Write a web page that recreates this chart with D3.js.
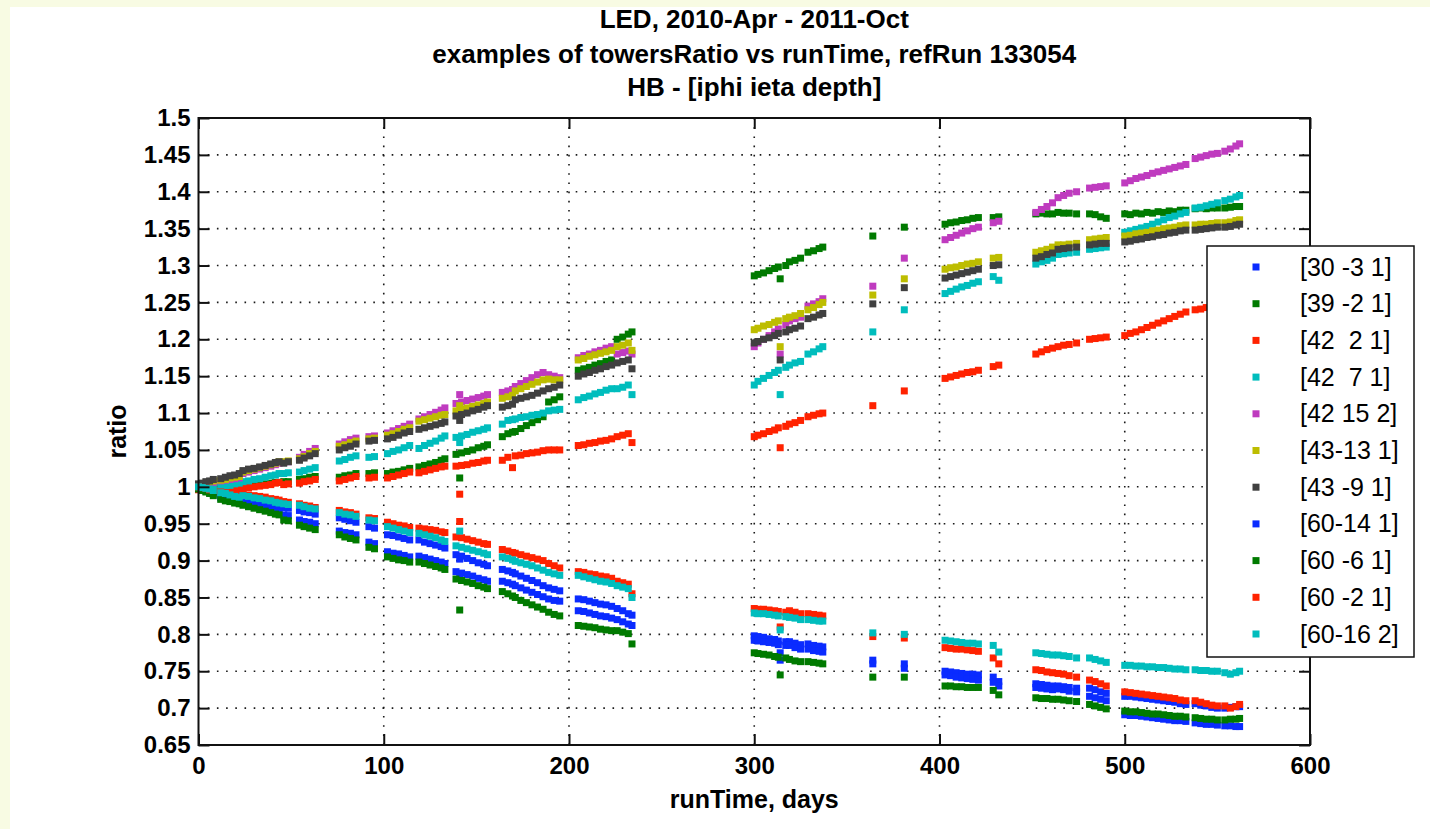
<!DOCTYPE html>
<html>
<head>
<meta charset="utf-8">
<script src="https://cdn.jsdelivr.net/npm/d3@7"></script>
<style>
  html, body { margin: 0; padding: 0; background: #f8fbe3; }
  svg { display: block; }
  text { font-family: "Liberation Sans", Arial, Helvetica, sans-serif; fill: #000; }
</style>
</head>
<body>
<svg id="chart" width="1430" height="829"></svg>
<script>
// ---- data: run time (days) and tower ratios vs the reference run ----
const runDays = [
  0, 2, 4, 6, 8,
  12, 14.5, 17, 19.5, 22,
  24, 27, 30, 33, 36, 39, 41.5, 43.5,
  46, 48.5,
  54.5, 57, 60, 63,
  76, 79, 82, 85,
  92, 95,
  102, 105, 108, 111, 114,
  119, 122, 125, 128, 131, 133,
  139, 141, 142, 145, 148, 151, 154, 156,
  164, 167, 169.5, 171, 174, 177, 180, 183, 186, 189, 192, 195,
  205, 208, 211, 214, 217, 220, 223,
  226, 229, 232, 234,
  300, 302, 305, 308, 311, 313, 314, 317,
  319, 322, 325,
  329, 332, 335, 337,
  364,
  381,
  403, 406, 409, 412, 415, 418, 421,
  429, 432,
  452, 455, 458, 461,
  464, 467, 470, 474,
  481, 484, 487, 490,
  500, 503, 506, 509, 512, 515, 518, 521, 524, 527, 530, 533,
  538, 541, 544, 547, 550,
  554, 557, 560, 562
];

const towerLabels = ["[30 -3 1]", "[39 -2 1]", "[42  2 1]", "[42  7 1]", "[42 15 2]",
  "[43-13 1]", "[43 -9 1]", "[60-14 1]", "[60 -6 1]", "[60 -2 1]", "[60-16 2]"];

const ratio_30_m3_1 = [
  1.000, 0.998, 0.997, 0.995, 0.993,
  0.988, 0.987, 0.985, 0.984, 0.983,
  0.984, 0.982, 0.981, 0.979, 0.978, 0.977, 0.975, 0.975,
  0.972, 0.971,
  0.968, 0.966, 0.965, 0.963,
  0.958, 0.956, 0.954, 0.952,
  0.946, 0.944,
  0.935, 0.934, 0.932, 0.930, 0.928,
  0.928, 0.925, 0.923, 0.921, 0.919, 0.917,
  0.908, 0.902, 0.906, 0.903, 0.900, 0.897, 0.895, 0.893,
  0.888, 0.886, 0.884, 0.882, 0.879, 0.876, 0.873, 0.870, 0.866, 0.863, 0.861, 0.859,
  0.848, 0.847, 0.845, 0.843, 0.841, 0.840, 0.838,
  0.835, 0.832, 0.828, 0.826,
  0.798, 0.797, 0.796, 0.794, 0.793, 0.791, 0.775, 0.790,
  0.790, 0.788, 0.786,
  0.787, 0.785, 0.784, 0.783,
  0.765,
  0.760,
  0.750, 0.749, 0.748, 0.747, 0.746, 0.746, 0.745,
  0.742, 0.736,
  0.733, 0.732, 0.731, 0.730,
  0.730, 0.729, 0.728, 0.727,
  0.727, 0.725, 0.722, 0.720,
  0.716, 0.716, 0.715, 0.714, 0.713, 0.712, 0.711, 0.710, 0.709, 0.708, 0.706, 0.705,
  0.706, 0.704, 0.703, 0.701, 0.700,
  0.700, 0.701, 0.702, 0.702
];

const ratio_39_m2_1 = [
  0.998, 0.998, 0.999, 0.999, 1.000,
  1.000, 1.000, 1.001, 1.001, 1.002,
  1.002, 1.003, 1.003, 1.004, 1.004, 1.005, 1.006, 1.006,
  1.007, 1.007,
  1.010, 1.011, 1.013, 1.014,
  1.013, 1.015, 1.016, 1.018,
  1.018, 1.019,
  1.018, 1.020, 1.021, 1.023, 1.025,
  1.027, 1.029, 1.031, 1.033, 1.036, 1.038,
  1.044, 1.012, 1.046, 1.048, 1.050, 1.053, 1.055, 1.057,
  1.068, 1.072, 1.074, 1.075, 1.079, 1.083, 1.087, 1.091, 1.095, 1.115, 1.118, 1.122,
  1.158, 1.160, 1.162, 1.165, 1.167, 1.170, 1.172,
  1.200, 1.203, 1.207, 1.210,
  1.286, 1.288, 1.290, 1.293, 1.296, 1.298, 1.282, 1.300,
  1.305, 1.307, 1.310,
  1.318, 1.320, 1.323, 1.325,
  1.340,
  1.352,
  1.356, 1.358, 1.359, 1.361, 1.362, 1.364, 1.365,
  1.365, 1.366,
  1.370, 1.371, 1.370, 1.370,
  1.372, 1.371, 1.371, 1.370,
  1.370, 1.369, 1.366, 1.364,
  1.370, 1.369, 1.371, 1.370, 1.372, 1.371, 1.373, 1.372, 1.374, 1.373, 1.375, 1.375,
  1.377, 1.378, 1.377, 1.378, 1.378,
  1.378, 1.379, 1.380, 1.380
];

const ratio_42_2_1 = [
  0.996, 0.996, 0.997, 0.997, 0.997,
  0.995, 0.996, 0.997, 0.997, 0.998,
  0.998, 0.999, 1.000, 1.001, 1.002, 1.003, 1.005, 1.006,
  1.003, 1.004,
  1.005, 1.007, 1.008, 1.010,
  1.008, 1.010, 1.012, 1.014,
  1.012, 1.013,
  1.012, 1.014, 1.016, 1.018, 1.020,
  1.019, 1.021, 1.023, 1.025, 1.027, 1.028,
  1.028, 0.990, 1.029, 1.030, 1.032, 1.033, 1.035, 1.036,
  1.036, 1.040, 1.026, 1.042, 1.043, 1.045, 1.046, 1.047, 1.049, 1.050, 1.050, 1.050,
  1.056, 1.057, 1.059, 1.060, 1.062, 1.063, 1.065,
  1.068, 1.070, 1.072, 1.060,
  1.068, 1.070, 1.072, 1.075, 1.077, 1.080, 1.053, 1.082,
  1.085, 1.087, 1.090,
  1.095, 1.097, 1.099, 1.100,
  1.110,
  1.130,
  1.147, 1.149, 1.151, 1.153, 1.155, 1.156, 1.158,
  1.163, 1.165,
  1.180, 1.183, 1.186, 1.188,
  1.190, 1.192, 1.193, 1.195,
  1.200, 1.201, 1.202, 1.203,
  1.205, 1.208, 1.210, 1.213, 1.216, 1.219, 1.222, 1.225, 1.228, 1.231, 1.234, 1.237,
  1.240, 1.241, 1.243, 1.244, 1.245,
  1.248, 1.249, 1.251, 1.252
];

const ratio_42_7_1 = [
  1.000, 1.000, 0.999, 0.999, 1.000,
  1.000, 1.001, 1.002, 1.004, 1.005,
  1.007, 1.008, 1.010, 1.011, 1.013, 1.015, 1.016, 1.018,
  1.018, 1.019,
  1.020, 1.022, 1.024, 1.026,
  1.035, 1.037, 1.040, 1.042,
  1.040, 1.041,
  1.045, 1.048, 1.050, 1.053, 1.056,
  1.052, 1.056, 1.059, 1.062, 1.066, 1.069,
  1.067, 1.060, 1.069, 1.071, 1.074, 1.076, 1.078, 1.080,
  1.085, 1.090, 1.091, 1.092, 1.094, 1.095, 1.097, 1.098, 1.100, 1.103, 1.104, 1.105,
  1.118, 1.121, 1.123, 1.126, 1.128, 1.131, 1.133,
  1.133, 1.135, 1.138, 1.125,
  1.138, 1.143, 1.147, 1.151, 1.155, 1.158, 1.125, 1.162,
  1.165, 1.168, 1.170,
  1.180, 1.183, 1.187, 1.190,
  1.210,
  1.240,
  1.262, 1.265, 1.268, 1.271, 1.273, 1.276, 1.278,
  1.285, 1.280,
  1.302, 1.305, 1.307, 1.310,
  1.315, 1.316, 1.317, 1.318,
  1.322, 1.323, 1.324, 1.325,
  1.345, 1.347, 1.349, 1.351, 1.353, 1.356, 1.359, 1.362, 1.365, 1.367, 1.370, 1.372,
  1.378, 1.379, 1.381, 1.383, 1.385,
  1.388, 1.390, 1.393, 1.395
];

const ratio_42_15_2 = [
  1.002, 1.003, 1.004, 1.005, 1.006,
  1.008, 1.009, 1.010, 1.011, 1.012,
  1.018, 1.020, 1.022, 1.024, 1.026, 1.028, 1.030, 1.032,
  1.033, 1.034,
  1.040, 1.044, 1.048, 1.052,
  1.058, 1.061, 1.064, 1.066,
  1.068, 1.069,
  1.073, 1.076, 1.079, 1.082, 1.085,
  1.092, 1.095, 1.098, 1.101, 1.104, 1.107,
  1.113, 1.125, 1.115, 1.117, 1.119, 1.121, 1.123, 1.125,
  1.128, 1.130, 1.132, 1.136, 1.140, 1.144, 1.148, 1.152, 1.155, 1.152, 1.150, 1.148,
  1.175, 1.178, 1.180, 1.183, 1.185, 1.188, 1.190,
  1.180, 1.182, 1.184, 1.180,
  1.190, 1.195, 1.200, 1.205, 1.210, 1.214, 1.180, 1.220,
  1.225, 1.228, 1.230,
  1.245, 1.248, 1.251, 1.255,
  1.272,
  1.310,
  1.335, 1.338, 1.341, 1.344, 1.347, 1.350, 1.352,
  1.358, 1.360,
  1.372, 1.376, 1.380, 1.385,
  1.392, 1.395, 1.398, 1.400,
  1.405, 1.406, 1.407, 1.408,
  1.412, 1.415, 1.418, 1.420, 1.422, 1.425, 1.427, 1.429, 1.431, 1.433, 1.435, 1.437,
  1.445, 1.447, 1.449, 1.451, 1.452,
  1.455, 1.458, 1.462, 1.465
];

const ratio_43_m13_1 = [
  1.003, 1.004, 1.005, 1.007, 1.008,
  1.009, 1.010, 1.012, 1.013, 1.014,
  1.020, 1.022, 1.024, 1.026, 1.028, 1.030, 1.032, 1.034,
  1.034, 1.035,
  1.038, 1.041, 1.045, 1.048,
  1.055, 1.057, 1.060, 1.062,
  1.065, 1.066,
  1.070, 1.072, 1.075, 1.078, 1.080,
  1.089, 1.091, 1.093, 1.095, 1.097, 1.098,
  1.103, 1.110, 1.105, 1.107, 1.109, 1.111, 1.113, 1.115,
  1.120, 1.122, 1.124, 1.130, 1.133, 1.136, 1.139, 1.142, 1.145, 1.146, 1.145, 1.145,
  1.172, 1.174, 1.177, 1.179, 1.181, 1.183, 1.185,
  1.190, 1.192, 1.195, 1.185,
  1.213, 1.215, 1.218, 1.220, 1.223, 1.225, 1.190, 1.228,
  1.230, 1.232, 1.235,
  1.240, 1.243, 1.247, 1.250,
  1.260,
  1.282,
  1.295, 1.297, 1.298, 1.300, 1.302, 1.303, 1.305,
  1.310, 1.311,
  1.318, 1.320, 1.322, 1.325,
  1.328, 1.328, 1.329, 1.330,
  1.335, 1.336, 1.337, 1.338,
  1.340, 1.341, 1.343, 1.344, 1.345, 1.347, 1.348, 1.350, 1.351, 1.352, 1.354, 1.355,
  1.355, 1.356, 1.356, 1.357, 1.358,
  1.358, 1.359, 1.361, 1.362
];

const ratio_43_m9_1 = [
  1.004, 1.005, 1.007, 1.008, 1.010,
  1.011, 1.013, 1.015, 1.016, 1.018,
  1.022, 1.024, 1.025, 1.027, 1.029, 1.031, 1.033, 1.034,
  1.032, 1.034,
  1.036, 1.039, 1.042, 1.045,
  1.050, 1.053, 1.055, 1.058,
  1.062, 1.063,
  1.065, 1.067, 1.070, 1.073, 1.075,
  1.078, 1.080, 1.082, 1.084, 1.086, 1.088,
  1.096, 1.090, 1.098, 1.100, 1.103, 1.105, 1.108, 1.110,
  1.108, 1.110, 1.112, 1.118, 1.120, 1.122, 1.124, 1.127, 1.130, 1.133, 1.135, 1.138,
  1.150, 1.153, 1.155, 1.158, 1.160, 1.163, 1.165,
  1.168, 1.170, 1.172, 1.160,
  1.195, 1.197, 1.200, 1.202, 1.205, 1.208, 1.172, 1.210,
  1.213, 1.215, 1.218,
  1.228, 1.230, 1.233, 1.235,
  1.248,
  1.270,
  1.283, 1.285, 1.287, 1.289, 1.291, 1.293, 1.295,
  1.300, 1.301,
  1.310, 1.312, 1.315, 1.317,
  1.322, 1.323, 1.324, 1.325,
  1.328, 1.329, 1.330, 1.330,
  1.332, 1.333, 1.335, 1.336, 1.338, 1.339, 1.341, 1.342, 1.344, 1.345, 1.347, 1.348,
  1.348, 1.349, 1.350, 1.351, 1.352,
  1.352, 1.353, 1.355, 1.356
];

const ratio_60_m14_1 = [
  0.998, 0.996, 0.994, 0.992, 0.990,
  0.985, 0.983, 0.981, 0.980, 0.978,
  0.978, 0.977, 0.975, 0.974, 0.972, 0.971, 0.969, 0.968,
  0.962, 0.961,
  0.955, 0.953, 0.952, 0.950,
  0.940, 0.938, 0.937, 0.935,
  0.925, 0.923,
  0.912, 0.910, 0.909, 0.907, 0.905,
  0.906, 0.904, 0.902, 0.900, 0.898, 0.896,
  0.885, 0.880, 0.883, 0.881, 0.879, 0.876, 0.874, 0.872,
  0.872, 0.870, 0.868, 0.866, 0.863, 0.860, 0.857, 0.854, 0.851, 0.848, 0.846, 0.845,
  0.832, 0.831, 0.829, 0.827, 0.825, 0.824, 0.822,
  0.820, 0.817, 0.814, 0.812,
  0.792, 0.791, 0.790, 0.789, 0.788, 0.786, 0.765, 0.785,
  0.785, 0.782, 0.780,
  0.780, 0.778, 0.777, 0.776,
  0.760,
  0.754,
  0.745, 0.744, 0.742, 0.741, 0.740, 0.739, 0.738,
  0.735, 0.730,
  0.728, 0.727, 0.726, 0.725,
  0.726, 0.725, 0.723, 0.722,
  0.716, 0.714, 0.712, 0.710,
  0.691, 0.690, 0.690, 0.689, 0.688, 0.687, 0.686, 0.685, 0.684, 0.683, 0.683, 0.682,
  0.680, 0.679, 0.678, 0.678, 0.677,
  0.676, 0.676, 0.675, 0.675
];

const ratio_60_m6_1 = [
  0.997, 0.995, 0.993, 0.991, 0.988,
  0.983, 0.981, 0.980, 0.978, 0.977,
  0.975, 0.973, 0.971, 0.969, 0.967, 0.965, 0.963, 0.962,
  0.955, 0.954,
  0.948, 0.946, 0.944, 0.942,
  0.935, 0.932, 0.930, 0.928,
  0.918, 0.916,
  0.905, 0.903, 0.901, 0.900, 0.898,
  0.898, 0.896, 0.894, 0.892, 0.890, 0.888,
  0.875, 0.833, 0.873, 0.871, 0.869, 0.866, 0.864, 0.862,
  0.858, 0.855, 0.852, 0.850, 0.846, 0.843, 0.840, 0.837, 0.834, 0.830, 0.827, 0.825,
  0.812, 0.811, 0.810, 0.809, 0.807, 0.806, 0.805,
  0.805, 0.803, 0.801, 0.787,
  0.775, 0.774, 0.773, 0.772, 0.770, 0.769, 0.745, 0.768,
  0.766, 0.764, 0.763,
  0.763, 0.762, 0.761, 0.760,
  0.742,
  0.742,
  0.730, 0.730, 0.729, 0.729, 0.728, 0.728, 0.728,
  0.724, 0.718,
  0.714, 0.713, 0.713, 0.712,
  0.712, 0.711, 0.710, 0.709,
  0.705, 0.703, 0.701, 0.699,
  0.696, 0.695, 0.695, 0.694, 0.693, 0.692, 0.692, 0.691, 0.690, 0.689, 0.689, 0.688,
  0.687, 0.686, 0.685, 0.685, 0.684,
  0.684, 0.685, 0.685, 0.686
];

const ratio_60_m2_1 = [
  1.000, 0.999, 0.998, 0.996, 0.995,
  0.993, 0.992, 0.991, 0.990, 0.990,
  0.990, 0.989, 0.988, 0.987, 0.986, 0.984, 0.983, 0.982,
  0.980, 0.979,
  0.977, 0.975, 0.974, 0.972,
  0.968, 0.966, 0.965, 0.963,
  0.958, 0.957,
  0.952, 0.950, 0.948, 0.947, 0.945,
  0.944, 0.943, 0.942, 0.941, 0.939, 0.938,
  0.932, 0.953, 0.931, 0.929, 0.927, 0.925, 0.923, 0.922,
  0.915, 0.913, 0.911, 0.910, 0.908, 0.906, 0.904, 0.902, 0.900, 0.896, 0.893, 0.890,
  0.885, 0.884, 0.882, 0.881, 0.879, 0.878, 0.876,
  0.872, 0.870, 0.868, 0.855,
  0.835, 0.834, 0.834, 0.833, 0.832, 0.831, 0.810, 0.830,
  0.832, 0.830, 0.828,
  0.828, 0.827, 0.826, 0.825,
  0.797,
  0.795,
  0.782, 0.781, 0.780, 0.780, 0.779, 0.778, 0.777,
  0.768, 0.760,
  0.752, 0.751, 0.749, 0.748,
  0.747, 0.746, 0.744, 0.742,
  0.738, 0.736, 0.733, 0.730,
  0.722, 0.721, 0.720, 0.719, 0.718, 0.717, 0.716, 0.715, 0.714, 0.713, 0.711, 0.710,
  0.710, 0.708, 0.706, 0.704, 0.703,
  0.703, 0.700, 0.702, 0.705
];

const ratio_60_m16_2 = [
  1.000, 0.999, 0.998, 0.997, 0.995,
  0.992, 0.991, 0.989, 0.987, 0.986,
  0.988, 0.987, 0.985, 0.984, 0.982, 0.981, 0.979, 0.978,
  0.977, 0.976,
  0.975, 0.973, 0.971, 0.970,
  0.965, 0.963, 0.962, 0.960,
  0.955, 0.954,
  0.946, 0.944, 0.942, 0.940, 0.938,
  0.937, 0.935, 0.933, 0.931, 0.928, 0.926,
  0.920, 0.940, 0.918, 0.916, 0.914, 0.912, 0.910, 0.908,
  0.905, 0.903, 0.901, 0.899, 0.897, 0.895, 0.893, 0.890, 0.887, 0.884, 0.882, 0.880,
  0.880, 0.878, 0.876, 0.874, 0.872, 0.871, 0.869,
  0.866, 0.864, 0.862, 0.850,
  0.829, 0.828, 0.828, 0.827, 0.826, 0.825, 0.806, 0.824,
  0.823, 0.822, 0.820,
  0.820, 0.819, 0.818, 0.818,
  0.802,
  0.800,
  0.792, 0.791, 0.790, 0.789, 0.788, 0.788, 0.787,
  0.785, 0.776,
  0.775, 0.774, 0.773, 0.772,
  0.772, 0.771, 0.770, 0.768,
  0.768, 0.766, 0.764, 0.762,
  0.758, 0.758, 0.757, 0.757, 0.756, 0.756, 0.755, 0.755, 0.754, 0.753, 0.753, 0.752,
  0.752, 0.751, 0.751, 0.750, 0.750,
  0.748, 0.746, 0.748, 0.750
];

const seriesValues = [ratio_30_m3_1, ratio_39_m2_1, ratio_42_2_1, ratio_42_7_1, ratio_42_15_2,
  ratio_43_m13_1, ratio_43_m9_1, ratio_60_m14_1, ratio_60_m6_1, ratio_60_m2_1, ratio_60_m16_2];

const xTickValues = [0, 100, 200, 300, 400, 500, 600];
const yTickValues = [0.65, 0.7, 0.75, 0.8, 0.85, 0.9, 0.95, 1, 1.05, 1.1, 1.15, 1.2, 1.25, 1.3, 1.35, 1.4, 1.45, 1.5];

const titleLines = ["LED, 2010-Apr - 2011-Oct",
  "examples of towersRatio vs runTime, refRun 133054",
  "HB - [iphi ieta depth]"];

// ---- styling ----
const seriesColors = ["#0a2bff", "#007a00", "#ff2200", "#00bdbd", "#bf3bbf", "#bdbd00",
  "#404040", "#0a2bff", "#007a00", "#ff2200", "#00bdbd"];

const W = 1430, H = 829;
const plot = { left: 198.5, right: 1310, top: 118, bottom: 745 };
const markerSize = 7;

const svg = d3.select("#chart");

// figure panel
svg.append("rect").attr("x", 0).attr("y", 0).attr("width", W).attr("height", H).attr("fill", "#f8fbe3");
svg.append("rect").attr("x", 10).attr("y", 7).attr("width", W - 10).attr("height", H - 7).attr("fill", "#ffffff");

const x = d3.scaleLinear().domain([0, 600]).range([plot.left, plot.right]);
const y = d3.scaleLinear().domain([0.65, 1.5]).range([plot.bottom, plot.top]);

// dotted grid
const grid = svg.append("g").attr("stroke", "#1a1a1a").attr("stroke-width", 1.6)
  .attr("stroke-dasharray", "1.6 7.6");
grid.selectAll("line.gx").data(xTickValues.slice(1, -1)).join("line")
  .attr("x1", d => x(d)).attr("x2", d => x(d))
  .attr("y1", plot.top).attr("y2", plot.bottom);
grid.selectAll("line.gy").data(yTickValues.slice(1, -1)).join("line")
  .attr("x1", plot.left).attr("x2", plot.right)
  .attr("y1", d => y(d)).attr("y2", d => y(d));

// data markers, drawn series by series
const marks = svg.append("g");
seriesValues.forEach((vals, si) => {
  const pts = runDays.map((d, i) => [d, vals[i]]).filter(p => p[1] != null);
  marks.append("g").attr("fill", seriesColors[si])
    .selectAll("rect").data(pts).join("rect")
    .attr("x", p => x(p[0]) - markerSize / 2)
    .attr("y", p => y(p[1]) - markerSize / 2)
    .attr("width", markerSize).attr("height", markerSize);
});

// axes (ticks point inward)
const fmt = d => String(+d.toFixed(2));
const tickLen = 11;
const axB = svg.append("g").attr("transform", `translate(0,${plot.bottom})`)
  .call(d3.axisBottom(x).tickValues(xTickValues).tickFormat(fmt)
    .tickSize(-tickLen).tickSizeOuter(0).tickPadding(12));
const axL = svg.append("g").attr("transform", `translate(${plot.left},0)`)
  .call(d3.axisLeft(y).tickValues(yTickValues).tickFormat(fmt)
    .tickSize(-tickLen).tickSizeOuter(0).tickPadding(8));
const axT = svg.append("g").attr("transform", `translate(0,${plot.top})`)
  .call(d3.axisTop(x).tickValues(xTickValues).tickFormat("")
    .tickSize(-tickLen).tickSizeOuter(0));
const axR = svg.append("g").attr("transform", `translate(${plot.right},0)`)
  .call(d3.axisRight(y).tickValues(yTickValues).tickFormat("")
    .tickSize(-tickLen).tickSizeOuter(0));
[axB, axL, axT, axR].forEach(g => {
  g.select(".domain").remove();
  g.selectAll(".tick line").attr("stroke", "#111").attr("stroke-width", 2);
  g.selectAll(".tick text").attr("fill", "#000")
    .style("font-size", "24px").style("font-weight", "bold")
    .style("font-family", "'Liberation Sans', Arial, sans-serif");
});

// axes box
svg.append("rect").attr("x", plot.left).attr("y", plot.top)
  .attr("width", plot.right - plot.left).attr("height", plot.bottom - plot.top)
  .attr("fill", "none").attr("stroke", "#111").attr("stroke-width", 2);

// title
const cx = (plot.left + plot.right) / 2;
const titleBaselines = [28, 63, 96];
svg.append("g").selectAll("text").data(titleLines).join("text")
  .attr("x", cx).attr("y", (d, i) => titleBaselines[i])
  .attr("text-anchor", "middle")
  .style("font-size", "26px").style("font-weight", "bold")
  .text(d => d);

// axis labels
svg.append("text").attr("x", cx).attr("y", 808).attr("text-anchor", "middle")
  .style("font-size", "25px").style("font-weight", "bold").text("runTime, days");
svg.append("text").attr("transform", `translate(126,${(plot.top + plot.bottom) / 2}) rotate(-90)`)
  .attr("text-anchor", "middle")
  .style("font-size", "25px").style("font-weight", "bold").text("ratio");

// legend
const lg = { x: 1207, y: 246, w: 207, h: 411, row0: 267, step: 36.7 };
svg.append("rect").attr("x", lg.x).attr("y", lg.y).attr("width", lg.w).attr("height", lg.h)
  .attr("fill", "#fff").attr("stroke", "#111").attr("stroke-width", 1.5);
const rows = svg.append("g").selectAll("g").data(towerLabels).join("g")
  .attr("transform", (d, i) => `translate(0,${lg.row0 + i * lg.step})`);
rows.append("rect").attr("x", 1256 - markerSize / 2).attr("y", -markerSize / 2)
  .attr("width", markerSize).attr("height", markerSize)
  .attr("fill", (d, i) => seriesColors[i]);
rows.append("text").attr("x", 1300).attr("y", 8.5)
  .style("font-size", "25px").style("white-space", "pre")
  .attr("xml:space", "preserve")
  .text(d => d);
</script>
</body>
</html>
